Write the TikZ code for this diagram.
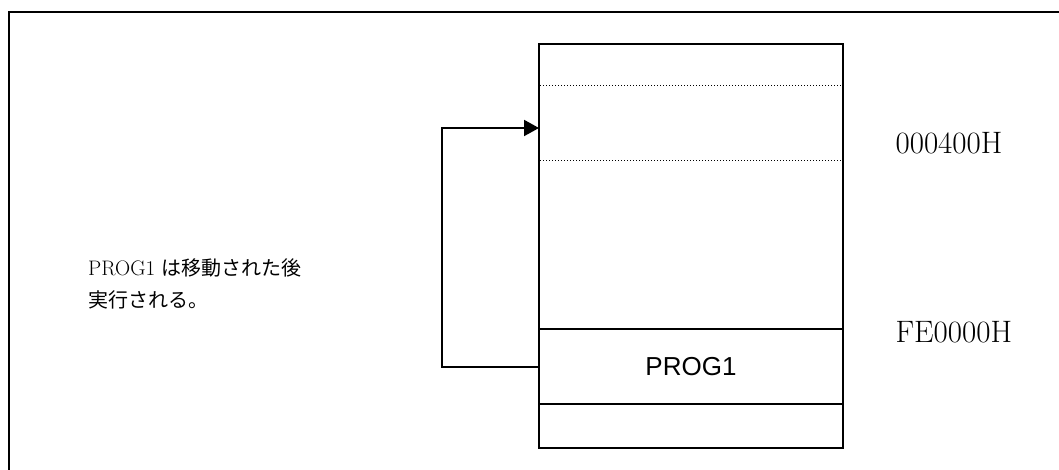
\documentclass[tikz,border=0pt]{standalone}
\usepackage{fontspec}
\setsansfont{Liberation Sans}
\newfontfamily\jafont{Noto Sans CJK JP}
\usetikzlibrary{positioning}
\usetikzlibrary{arrows.meta}

\begin{document}
\begin{tikzpicture}[x = 1pt, y = -1pt,
		addr/.style = {font = \fontsize{31}{36}\selectfont, anchor = west},
		slot/.style = {draw = black, line width = 1.3, minimum width = 304pt, inner sep = 0pt, outer sep = 0pt}]
				\useasboundingbox (0, 0) rectangle (1059, 470);
				\draw[black, line width = 1.8] (9, 470) -- (9, 12) -- (1059, 12);
				\draw[black, line width = 1.4] (539, 44) rectangle (843, 448);
				\draw[black, line width = 1, dash pattern = on 1pt off 2pt] (540, 86) -- (842, 86) (540, 161) -- (842, 161);
				\node[slot, minimum height = 75pt, anchor = north west, font = \sffamily\fontsize{26}{31}\selectfont] (prog) at (539, 329) {PROG1};
				\draw[black, line width = 1.7] (539, 404) -- (843, 404);
				\coordinate (entry) at (539, 128);
				\draw[black, line width = 2, -{Triangle[length = 15pt, width = 16pt]}] (prog.west) -- ++(-97, 0) |- (entry);
				\node[addr] (high) at (892, 143) {000400H};
				\node[addr] (low) at (892, 332) {FE0000H};
				\node[anchor = north west, align = left, inner sep = 0pt, font = \fontsize{21}{32}\selectfont] (note) at (88, 258) {PROG1 {\jafont\fontsize{20}{32}\selectfont は移動された後}\\{\jafont\fontsize{20}{32}\selectfont 実行される。}};
			\end{tikzpicture}
\end{document}
